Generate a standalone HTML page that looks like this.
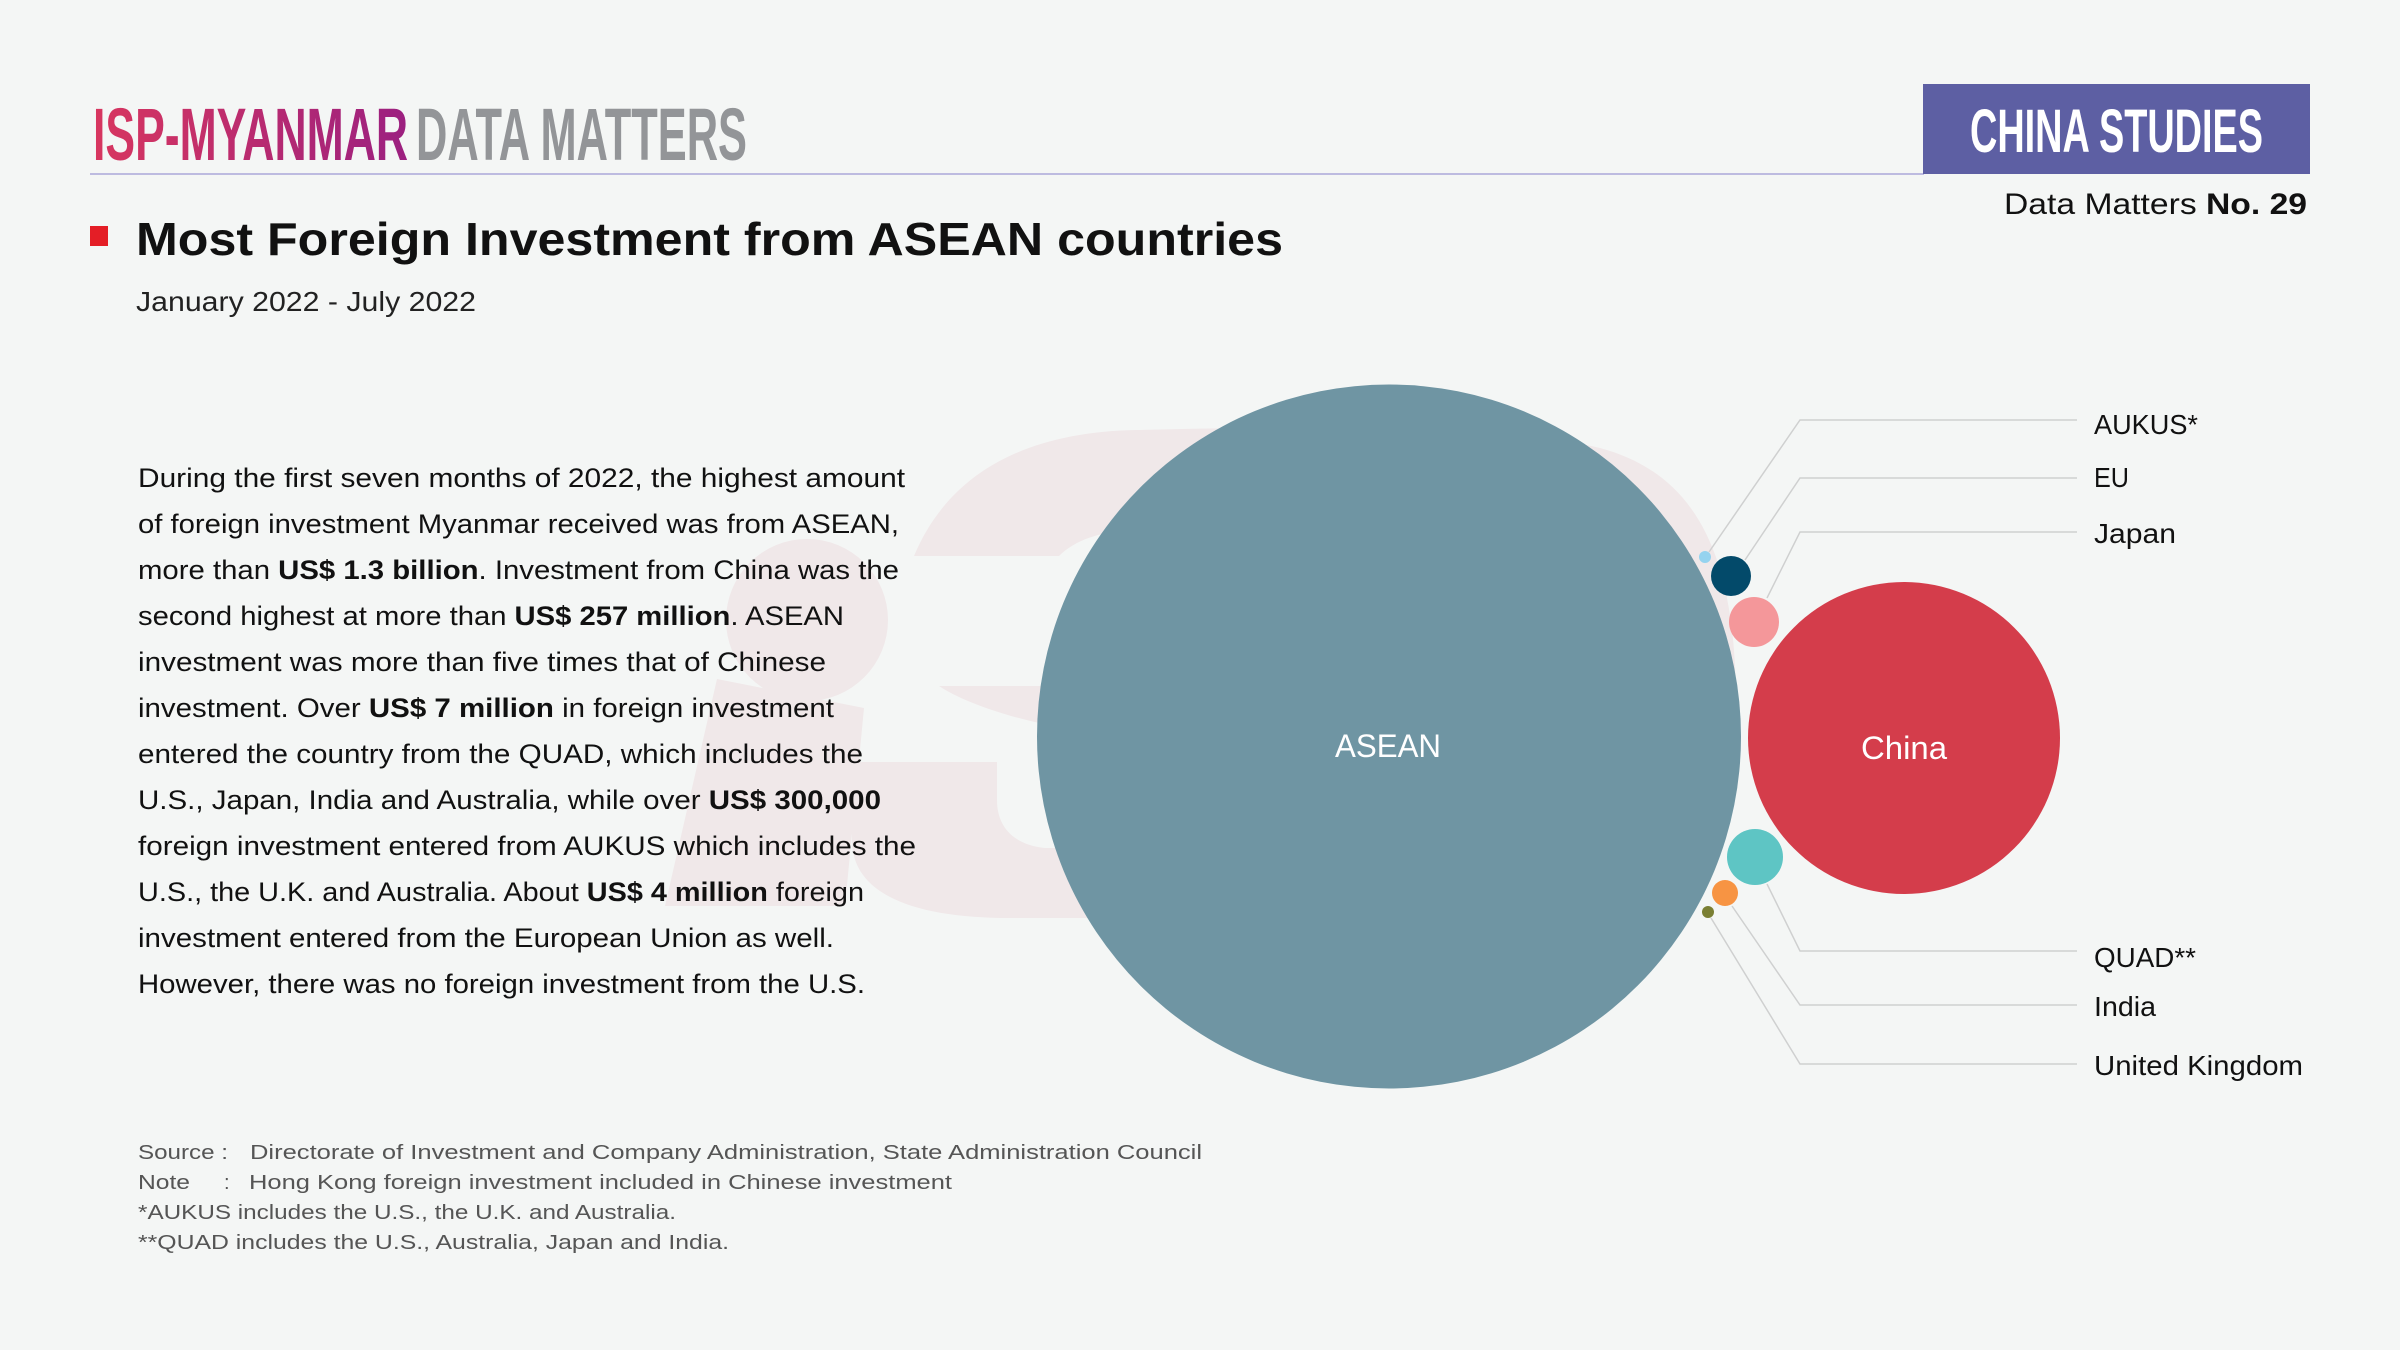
<!DOCTYPE html>
<html>
<head>
<meta charset="utf-8">
<style>
  html, body { margin:0; padding:0; background:#f4f6f5; }
  body { width:2400px; height:1350px; overflow:hidden; }
  svg { display:block; }
  .sans { font-family: "Liberation Sans", "DejaVu Sans", sans-serif; }
</style>
</head>
<body>
<svg width="2400" height="1350" viewBox="0 0 2400 1350" xmlns="http://www.w3.org/2000/svg" class="sans">
  <defs>
    <linearGradient id="ispg" x1="0" y1="0" x2="1" y2="0">
      <stop offset="0" stop-color="#d8365f"/>
      <stop offset="1" stop-color="#9b2080"/>
    </linearGradient>
  </defs>
  <rect x="0" y="0" width="2400" height="1350" fill="#f4f6f5"/>

  <!-- Header -->
  <text x="93" y="160" font-size="74" font-weight="bold" fill="url(#ispg)" textLength="315" lengthAdjust="spacingAndGlyphs">ISP-MYANMAR</text>
  <text x="416" y="160" font-size="74" font-weight="bold" fill="#939598" textLength="331" lengthAdjust="spacingAndGlyphs">DATA MATTERS</text>
  <rect x="90" y="173" width="1834" height="2" fill="#bdbbe0"/>

  <rect x="1923" y="84" width="387" height="90" fill="#5d5fa3"/>
  <text x="1970" y="152" font-size="61" font-weight="bold" fill="#ffffff" textLength="293" lengthAdjust="spacingAndGlyphs">CHINA STUDIES</text>
  <text x="2004" y="214" font-size="30" fill="#111" textLength="303" lengthAdjust="spacingAndGlyphs">Data Matters <tspan font-weight="bold">No. 29</tspan></text>

  <!-- Title -->
  <rect x="90" y="226" width="18" height="20" fill="#e41e26"/>
  <text x="136" y="255" font-size="46" font-weight="bold" fill="#111" textLength="1147" lengthAdjust="spacingAndGlyphs">Most Foreign Investment from ASEAN countries</text>
  <text x="136" y="311" font-size="28" fill="#222" textLength="340" lengthAdjust="spacingAndGlyphs">January 2022 - July 2022</text>

  <!-- Watermark -->
  <g fill="#f0e8e9">
    <circle cx="807" cy="620" r="81"/>
    <polygon points="717,679 864,708 845,906 665,906"/>
    <path d="M914,556 C950,470 1030,432 1136,430 C1350,425 1500,425 1600,448 C1700,475 1735,560 1736,700 L1650,700 C1600,560 1300,520 1130,530 C1100,532 1075,540 1059,556 Z"/>
    <path d="M939,686 L1200,686 L1200,745 L1048,725 C1000,715 960,700 939,686 Z"/>
    <path d="M852,762 L997,762 L997,800 C997,828 1015,845 1045,848 L1200,848 L1200,918 L1010,918 C915,918 852,895 852,840 Z"/>
  </g>

  <!-- Body text -->
  <g font-size="27" fill="#111">
    <text x="138" y="487" textLength="767" lengthAdjust="spacingAndGlyphs">During the first seven months of 2022, the highest amount</text>
    <text x="138" y="533" textLength="761" lengthAdjust="spacingAndGlyphs">of foreign investment Myanmar received was from ASEAN,</text>
    <text x="138" y="579" textLength="761" lengthAdjust="spacingAndGlyphs">more than <tspan font-weight="bold">US$ 1.3 billion</tspan>. Investment from China was the</text>
    <text x="138" y="625" textLength="706" lengthAdjust="spacingAndGlyphs">second highest at more than <tspan font-weight="bold">US$ 257 million</tspan>. ASEAN</text>
    <text x="138" y="671" textLength="688" lengthAdjust="spacingAndGlyphs">investment was more than five times that of Chinese</text>
    <text x="138" y="717" textLength="696" lengthAdjust="spacingAndGlyphs">investment. Over <tspan font-weight="bold">US$ 7 million</tspan> in foreign investment</text>
    <text x="138" y="763" textLength="725" lengthAdjust="spacingAndGlyphs">entered the country from the QUAD, which includes the</text>
    <text x="138" y="809" textLength="743" lengthAdjust="spacingAndGlyphs">U.S., Japan, India and Australia, while over <tspan font-weight="bold">US$ 300,000</tspan></text>
    <text x="138" y="855" textLength="778" lengthAdjust="spacingAndGlyphs">foreign investment entered from AUKUS which includes the</text>
    <text x="138" y="901" textLength="726" lengthAdjust="spacingAndGlyphs">U.S., the U.K. and Australia. About <tspan font-weight="bold">US$ 4 million</tspan> foreign</text>
    <text x="138" y="947" textLength="696" lengthAdjust="spacingAndGlyphs">investment entered from the European Union as well.</text>
    <text x="138" y="993" textLength="727" lengthAdjust="spacingAndGlyphs">However, there was no foreign investment from the U.S.</text>
  </g>

  <!-- Leader lines -->
  <g stroke="#cfd0d0" stroke-width="1.5" fill="none">
    <polyline points="1709,552 1800,420 2077,420"/>
    <polyline points="1745,560 1800,478 2077,478"/>
    <polyline points="1767,598 1800,532 2077,532"/>
    <polyline points="1767,884 1800,951 2077,951"/>
    <polyline points="1732,906 1800,1005 2077,1005"/>
    <polyline points="1711,918 1800,1064 2077,1064"/>
  </g>

  <!-- Bubbles -->
  <circle cx="1389" cy="736.5" r="352" fill="#6f95a3"/>
  <circle cx="1904" cy="738" r="156" fill="#d43d4b"/>
  <circle cx="1705" cy="557" r="6" fill="#95d3ef"/>
  <circle cx="1731" cy="576" r="20" fill="#034a6a"/>
  <circle cx="1754" cy="622" r="25" fill="#f4979a"/>
  <circle cx="1755" cy="857" r="28" fill="#5ec5c4"/>
  <circle cx="1725" cy="893" r="13" fill="#f79443"/>
  <circle cx="1708" cy="912" r="6" fill="#7a7f33"/>

  <text x="1388" y="757" font-size="32" fill="#ffffff" text-anchor="middle" textLength="106" lengthAdjust="spacingAndGlyphs">ASEAN</text>
  <text x="1904" y="759" font-size="32" fill="#ffffff" text-anchor="middle" textLength="86" lengthAdjust="spacingAndGlyphs">China</text>

  <!-- Right labels -->
  <g font-size="28" fill="#111">
    <text x="2094" y="434" textLength="104" lengthAdjust="spacingAndGlyphs">AUKUS*</text>
    <text x="2094" y="487" textLength="35" lengthAdjust="spacingAndGlyphs">EU</text>
    <text x="2094" y="543" textLength="82" lengthAdjust="spacingAndGlyphs">Japan</text>
    <text x="2094" y="967" textLength="102" lengthAdjust="spacingAndGlyphs">QUAD**</text>
    <text x="2094" y="1016" textLength="62" lengthAdjust="spacingAndGlyphs">India</text>
    <text x="2094" y="1075" textLength="209" lengthAdjust="spacingAndGlyphs">United Kingdom</text>
  </g>

  <!-- Footer -->
  <g font-size="20" fill="#555">
    <text x="138" y="1159" textLength="90" lengthAdjust="spacingAndGlyphs">Source :</text>
    <text x="250" y="1159" textLength="952" lengthAdjust="spacingAndGlyphs">Directorate of Investment and Company Administration, State Administration Council</text>
    <text x="138" y="1189" textLength="52" lengthAdjust="spacingAndGlyphs">Note</text>
    <text x="224" y="1189">:</text>
    <text x="249" y="1189" textLength="703" lengthAdjust="spacingAndGlyphs">Hong Kong foreign investment included in Chinese investment</text>
    <text x="138" y="1219" textLength="538" lengthAdjust="spacingAndGlyphs">*AUKUS includes the U.S., the U.K. and Australia.</text>
    <text x="138" y="1249" textLength="591" lengthAdjust="spacingAndGlyphs">**QUAD includes the U.S., Australia, Japan and India.</text>
  </g>
</svg>
</body>
</html>
